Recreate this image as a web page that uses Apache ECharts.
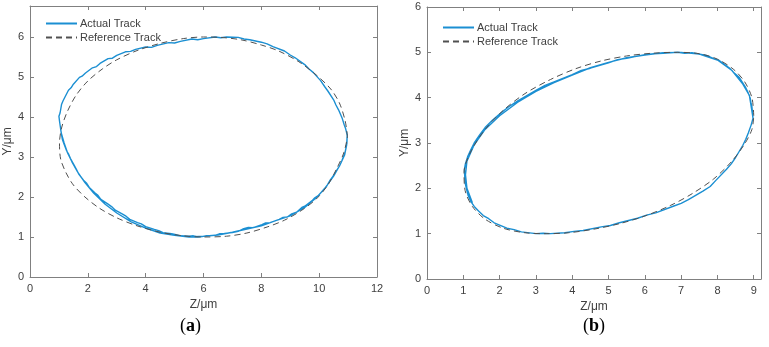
<!DOCTYPE html>
<html>
<head>
<meta charset="utf-8">
<script src="https://cdn.jsdelivr.net/npm/echarts@6/dist/echarts.min.js"></script>
<style>
  html, body { margin: 0; padding: 0; background: #fff; }
  #main { width: 769px; height: 347px; }
</style>
</head>
<body>
<div id="main"></div>
<script>
// panel (a): points, [Z, Y] in um
var refTrackA = [
    [10.98, 3.5], [10.9, 3.9], [10.7, 4.35], [10.4, 4.7], [9.9, 5.05], [9.3, 5.38], [8.6, 5.65],
    [8.0, 5.8], [7.3, 5.93], [6.6, 5.99], [6.0, 6.0], [5.3, 5.96], [4.5, 5.84], [3.7, 5.66],
    [3.0, 5.43], [2.5, 5.2], [2.0, 4.9], [1.6, 4.55], [1.3, 4.15], [1.1, 3.75], [1.02, 3.35],
    [1.06, 2.95], [1.25, 2.6], [1.5, 2.3], [1.9, 2.0], [2.4, 1.72], [3.0, 1.48], [3.7, 1.28],
    [4.5, 1.12], [5.3, 1.03], [6.0, 1.0], [6.8, 1.02], [7.5, 1.1], [8.2, 1.25], [8.8, 1.42],
    [9.4, 1.67], [9.9, 1.95], [10.3, 2.3], [10.6, 2.7], [10.85, 3.1], [10.98, 3.5]
];
var actTrackA = [
    [10.97, 3.55], [10.95, 3.3], [10.9, 3.12], [10.78, 2.9], [10.7, 2.77], [10.6, 2.66], [10.52, 2.56],
    [10.36, 2.4], [10.25, 2.26], [10.17, 2.2], [9.98, 2.04], [9.85, 1.98], [9.77, 1.92], [9.5, 1.77],
    [9.4, 1.74], [9.22, 1.62], [9.05, 1.58], [8.9, 1.5], [8.75, 1.49], [8.62, 1.44], [8.3, 1.36],
    [8.15, 1.35], [8.02, 1.31], [7.7, 1.23], [7.55, 1.24], [7.36, 1.2], [7.2, 1.14], [7.0, 1.11],
    [6.72, 1.09], [6.55, 1.08], [6.4, 1.04], [6.1, 1.03], [5.95, 1.01], [5.8, 1.0], [5.65, 1.03],
    [5.5, 1.02], [5.2, 1.03], [5.05, 1.06], [4.9, 1.08], [4.6, 1.11], [4.45, 1.16], [4.3, 1.19],
    [4.0, 1.26], [3.85, 1.33], [3.72, 1.36], [3.45, 1.44], [3.32, 1.52], [3.2, 1.57], [2.95, 1.67],
    [2.82, 1.76], [2.7, 1.82], [2.45, 1.94], [2.35, 2.04], [2.25, 2.1], [2.05, 2.24], [1.95, 2.35],
    [1.85, 2.42], [1.68, 2.58], [1.6, 2.7], [1.53, 2.79], [1.4, 2.96], [1.33, 3.08], [1.27, 3.15],
    [1.18, 3.32], [1.12, 3.44], [1.1, 3.52], [1.06, 3.7], [1.04, 3.8], [1.02, 3.9], [1.0, 4.02],
    [1.04, 4.1], [1.09, 4.31], [1.14, 4.4], [1.21, 4.5], [1.33, 4.67], [1.42, 4.73], [1.5, 4.82],
    [1.71, 4.99], [1.8, 5.02], [1.92, 5.1], [2.16, 5.23], [2.3, 5.26], [2.42, 5.34], [2.7, 5.46],
    [2.85, 5.47], [3.0, 5.54], [3.3, 5.63], [3.48, 5.64], [3.65, 5.69], [4.0, 5.75], [4.2, 5.74],
    [4.4, 5.79], [4.8, 5.86], [5.0, 5.85], [5.2, 5.89], [5.6, 5.95], [5.8, 5.93], [6.0, 5.96],
    [6.4, 6.0], [6.6, 5.98], [6.8, 6.0], [7.2, 5.99], [7.4, 5.95], [7.6, 5.93], [8.0, 5.87],
    [8.2, 5.83], [8.4, 5.76], [8.8, 5.65], [9.0, 5.55], [9.17, 5.48], [9.5, 5.31], [9.65, 5.2],
    [9.8, 5.11], [10.05, 4.91], [10.2, 4.75], [10.3, 4.65], [10.5, 4.43], [10.58, 4.3],
    [10.67, 4.18], [10.8, 3.96], [10.86, 3.82], [10.91, 3.72], [10.97, 3.55],
    // second pass, slightly off the first
    [10.96, 3.35], [10.88, 3.05], [10.72, 2.8], [10.5, 2.52], [10.2, 2.22], [9.9, 1.98],
    [9.5, 1.74], [9.0, 1.53], [8.5, 1.41], [8.0, 1.28], [7.5, 1.2], [7.0, 1.12], [6.5, 1.05],
    [6.0, 1.02], [5.5, 1.0], [5.0, 1.04], [4.5, 1.1], [4.0, 1.22], [3.5, 1.38], [3.0, 1.6],
    [2.6, 1.82], [2.2, 2.1], [1.9, 2.36], [1.65, 2.62], [1.45, 2.88], [1.3, 3.1], [1.18, 3.35],
    [1.08, 3.6], [1.03, 3.85]
];

// panel (b)
var refTrackB = [
    [9.0, 3.6], [8.95, 4.0], [8.75, 4.35], [8.45, 4.62], [8.0, 4.85], [7.5, 4.97], [6.9, 5.0],
    [6.2, 4.98], [5.5, 4.92], [4.8, 4.81], [4.1, 4.64], [3.4, 4.4], [2.7, 4.09], [2.1, 3.72],
    [1.6, 3.3], [1.2, 2.8], [1.02, 2.35], [1.05, 1.95], [1.25, 1.6], [1.6, 1.32], [2.1, 1.12],
    [2.7, 1.02], [3.3, 1.0], [3.9, 1.02], [4.6, 1.1], [5.3, 1.22], [6.0, 1.39], [6.7, 1.62],
    [7.3, 1.88], [7.9, 2.21], [8.4, 2.6], [8.75, 2.98], [8.95, 3.3], [9.0, 3.6]
];
var actTrackB = [
    [8.98, 3.55], [8.95, 3.8], [8.92, 3.9], [8.9, 4.0], [8.84, 4.12], [8.78, 4.22], [8.6, 4.45],
    [8.48, 4.53], [8.35, 4.64], [8.05, 4.82], [7.9, 4.86], [7.7, 4.93], [7.3, 4.99], [7.1, 4.98],
    [6.9, 5.0], [6.5, 4.98], [6.25, 4.97], [6.0, 4.95], [5.5, 4.87], [5.25, 4.84], [5.0, 4.77],
    [4.5, 4.65], [4.25, 4.6], [4.0, 4.51], [3.5, 4.35], [3.25, 4.27], [3.0, 4.16], [2.5, 3.93],
    [2.25, 3.8], [2.0, 3.64], [1.8, 3.5], [1.6, 3.34], [1.45, 3.18], [1.3, 3.0], [1.2, 2.84],
    [1.12, 2.7], [1.06, 2.55], [1.03, 2.42], [1.04, 2.25], [1.05, 2.12], [1.09, 1.98], [1.13, 1.85],
    [1.2, 1.72], [1.3, 1.6], [1.42, 1.5], [1.55, 1.4], [1.7, 1.33], [1.85, 1.24], [2.2, 1.12],
    [2.4, 1.09], [2.6, 1.04], [3.0, 1.0], [3.2, 1.01], [3.4, 1.0], [3.8, 1.02], [4.05, 1.05],
    [4.3, 1.07], [4.8, 1.15], [5.05, 1.18], [5.3, 1.24], [5.8, 1.34], [6.05, 1.41], [6.3, 1.46],
    [6.8, 1.61], [7.0, 1.67], [7.2, 1.75], [7.6, 1.94], [7.8, 2.04], [7.95, 2.17], [8.25, 2.42],
    [8.38, 2.54], [8.5, 2.68], [8.7, 2.95], [8.78, 3.08], [8.85, 3.22], [8.93, 3.4], [8.98, 3.55],
    // second pass
    [8.94, 3.75], [8.88, 4.05], [8.7, 4.3], [8.4, 4.6], [8.0, 4.83], [7.5, 4.96], [7.0, 5.0],
    [6.5, 4.99], [6.0, 4.94], [5.5, 4.88], [5.0, 4.78], [4.5, 4.66], [4.0, 4.5], [3.5, 4.33],
    [3.0, 4.14], [2.5, 3.9], [2.0, 3.6], [1.6, 3.3], [1.3, 2.96], [1.1, 2.6], [1.06, 2.3],
    [1.1, 2.0], [1.25, 1.68]
];

var seriesNames = ['Actual Track', 'Reference Track'];
var axisNameX = 'Z/\u03bcm', axisNameY = 'Y/\u03bcm';
var captions = ['a', 'b'];

var lineColor = '#808080', textColor = '#404040', font = 'Liberation Sans';
var blue = '#1b8fd2', gray = '#505050';

// MATLAB-like box: bottom/left with labels, top/right mirrored with ticks only
function valAxis(idx, pos, max, interval, name, nameGap) {
    var mirror = pos === 'top' || pos === 'right';
    return {
        type: 'value', gridIndex: idx, position: pos, min: 0, max: max, interval: interval,
        name: mirror ? '' : name, nameLocation: 'middle', nameGap: nameGap,
        nameTextStyle: { color: textColor, fontFamily: font, fontSize: 12 },
        axisLine: { show: true, onZero: false, lineStyle: { color: lineColor, width: 1 } },
        axisTick: { show: true, inside: true, length: 4, lineStyle: { color: lineColor } },
        axisLabel: {
            show: !mirror, color: textColor, fontFamily: font, fontSize: 11, margin: 6,
            showMaxLabel: max % interval === 0
        },
        splitLine: { show: false }
    };
}

function legendAt(left, top) {
    return {
        data: seriesNames, orient: 'vertical', left: left, top: top,
        itemWidth: 31, itemHeight: 10, itemGap: 3, selectedMode: false,
        itemStyle: { opacity: 0 },
        textStyle: { color: textColor, fontFamily: font, fontSize: 11, padding: [0, 0, 0, -2] }
    };
}

function caption(letter, x) {
    return {
        type: 'text', left: x, top: 317,
        style: {
            text: '({b|' + letter + '})', fill: '#000', font: '18px "Liberation Serif"',
            rich: { b: { fontFamily: 'Liberation Serif', fontSize: 18, fontWeight: 'bold', fill: '#000' } }
        }
    };
}

var myChart = echarts.init(document.getElementById('main'), null, { renderer: 'canvas' });

var option = {
    backgroundColor: '#fff',
    animation: false,
    grid: [
        { left: 30, top: 6, width: 347, height: 271 },
        { left: 427, top: 7, width: 334, height: 272 }
    ],
    xAxis: [
        valAxis(0, 'bottom', 12, 2, axisNameX, 21),
        valAxis(0, 'top', 12, 2, axisNameX, 21),
        valAxis(1, 'bottom', 9.2, 1, axisNameX, 21),
        valAxis(1, 'top', 9.2, 1, axisNameX, 21)
    ],
    yAxis: [
        valAxis(0, 'left', 6.775, 1, axisNameY, 10),
        valAxis(0, 'right', 6.775, 1, axisNameY, 10),
        valAxis(1, 'left', 6, 1, axisNameY, 13),
        valAxis(1, 'right', 6, 1, axisNameY, 13)
    ],
    legend: [legendAt(40, 13), legendAt(437, 17)],
    graphic: [caption(captions[0], 180), caption(captions[1], 583)],
    series: [
        {
            name: seriesNames[0], type: 'line', xAxisIndex: 0, yAxisIndex: 0,
            data: actTrackA, symbol: 'none', lineStyle: { color: blue, width: 1.4 },
            itemStyle: { color: blue }, z: 3
        },
        {
            name: seriesNames[1], type: 'line', xAxisIndex: 0, yAxisIndex: 0,
            data: refTrackA, symbol: 'none', smooth: 0.3,
            lineStyle: { color: gray, width: 1, type: [6, 4] }, itemStyle: { color: gray }, z: 4
        },
        {
            name: seriesNames[0], type: 'line', xAxisIndex: 2, yAxisIndex: 2,
            data: actTrackB, symbol: 'none', lineStyle: { color: blue, width: 1.4 },
            itemStyle: { color: blue }, z: 3
        },
        {
            name: seriesNames[1], type: 'line', xAxisIndex: 2, yAxisIndex: 2,
            data: refTrackB, symbol: 'none', smooth: 0.3,
            lineStyle: { color: gray, width: 1, type: [6, 4] }, itemStyle: { color: gray }, z: 4
        }
    ]
};

myChart.setOption(option);
</script>
</body>
</html>
